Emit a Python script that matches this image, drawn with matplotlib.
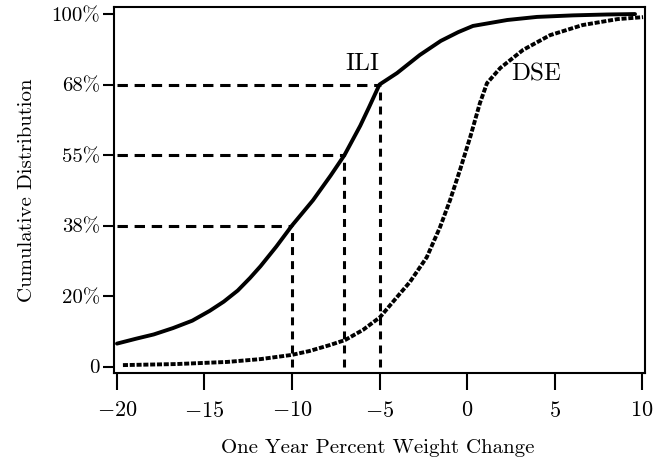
import numpy as np
import matplotlib
matplotlib.use("Agg")
import matplotlib.pyplot as plt
from matplotlib.ticker import FixedLocator, FixedFormatter

# ---- data (cumulative percent) ----
ili_x = [-20.0, -18.9, -17.9, -16.8, -15.7, -14.7, -13.9, -13.1, -12.4, -11.8,
         -10.9, -10.0, -8.8, -7.8, -7.0, -6.1, -5.6, -5.0, -4.0, -2.7, -1.5,
         -0.5, 0.34, 2.3, 4.0, 6.06, 8.0, 9.6]
ili_y = [6.5, 7.9, 9.1, 10.9, 13.0, 15.8, 18.4, 21.4, 24.6, 27.6,
         32.6, 38.0, 44.1, 50.0, 55.0, 60.4, 63.8, 68.0, 73.2, 81.4, 87.8,
         91.8, 94.6, 97.3, 98.7, 99.4, 99.8, 100.0]

dse_x = [-19.66, -16.6, -13.7, -11.8, -10.0, -9.0, -7.83, -6.97, -5.94, -4.97,
         -4.0, -3.26, -2.3, -1.54, -0.97, -0.4, 0.2, 0.74, 1.14, 1.9, 3.2,
         4.74, 6.6, 8.6, 10.06]
dse_y = [0.4, 0.7, 1.3, 2.1, 3.3, 4.4, 6.1, 7.5, 10.4, 14.0,
         19.7, 23.6, 29.9, 37.6, 44.1, 51.4, 58.5, 64.6, 68.6, 75.5, 83.7,
         90.4, 95.0, 97.7, 98.6]

# reference quantile markers: (x, cumulative %)
ref_x = [-10, -7, -5]
ref_y = [38, 55, 68]

x_ticks = [-20, -15, -10, -5, 0, 5, 10]
y_tick_vals = [0, 20, 38, 55, 68, 100]
y_tick_labels = ['0', '20%', '38%', '55%', '68%', '100%']

# ---- piecewise-linear y scale (equally spaced tick values) ----
P = np.array(y_tick_vals, float)
T = np.arange(len(P), dtype=float)

def fwd(y):
    y = np.asarray(y, float)
    t = np.interp(y, P, T)
    lo = T[0] + (y - P[0]) / (P[1] - P[0]) * (T[1] - T[0])
    hi = T[-1] + (y - P[-1]) / (P[-1] - P[-2]) * (T[-1] - T[-2])
    return np.where(y < P[0], lo, np.where(y > P[-1], hi, t))

def inv(t):
    t = np.asarray(t, float)
    y = np.interp(t, T, P)
    lo = P[0] + (t - T[0]) / (T[1] - T[0]) * (P[1] - P[0])
    hi = P[-1] + (t - T[-1]) / (T[-1] - T[-2]) * (P[-1] - P[-2])
    return np.where(t < T[0], lo, np.where(t > T[-1], hi, y))

plt.rcParams['font.family'] = ['cmr10', 'DejaVu Serif']
plt.rcParams['mathtext.fontset'] = 'cm'
plt.rcParams['axes.formatter.use_mathtext'] = True

fig = plt.figure(figsize=(6.53, 4.67), dpi=100)
ax = fig.add_axes([114/653, 1 - 373/467, (645-114)/653, (373-7)/467])
ax.set_yscale('function', functions=(fwd, inv))

ax.plot(ili_x, ili_y, color='black', lw=2.8, solid_capstyle='round',
        solid_joinstyle='round', zorder=3)
ax.plot(dse_x, dse_y, color='black', lw=2.8, linestyle=(0, (1.3, 0.45)), zorder=3)

for xv, yv in zip(ref_x, ref_y):
    ax.plot([-20, xv], [yv, yv], color='black', lw=2.2, linestyle=(0, (3.4, 2.2)), zorder=2)
    ax.plot([xv, xv], [0, yv], color='black', lw=2.2, linestyle=(0, (2.6, 2.0)), zorder=2)

ax.text(-5.97, 77.3, 'ILI', fontsize=18, ha='center', va='center')
ax.text(3.97, 72.8, 'DSE', fontsize=18, ha='center', va='center')

ax.set_xlim(-20.17, 10.17)
ax.set_ylim(-1.84, 103.2)

ax.xaxis.set_major_locator(FixedLocator(x_ticks))
ax.xaxis.set_major_formatter(FixedFormatter([r'$%d$' % v for v in x_ticks]))
ax.yaxis.set_major_locator(FixedLocator(y_tick_vals))
ax.yaxis.set_major_formatter(FixedFormatter(y_tick_labels))
ax.yaxis.set_minor_locator(FixedLocator([]))
ax.xaxis.set_minor_locator(FixedLocator([]))

for s in ax.spines.values():
    s.set_linewidth(1.5)
ax.tick_params(axis='x', length=12, width=1.5, labelsize=16, pad=8)
ax.tick_params(axis='y', length=8, width=1.5, labelsize=15, pad=2)

ax.set_xlabel('One Year Percent Weight Change', fontsize=15)
ax.set_ylabel('Cumulative Distribution', fontsize=15)
ax.xaxis.set_label_coords((378 - 114) / 531, (373 - 439) / 366)
ax.yaxis.set_label_coords((36 - 114) / 531, 0.5)

fig.savefig('out.png', dpi=100)
